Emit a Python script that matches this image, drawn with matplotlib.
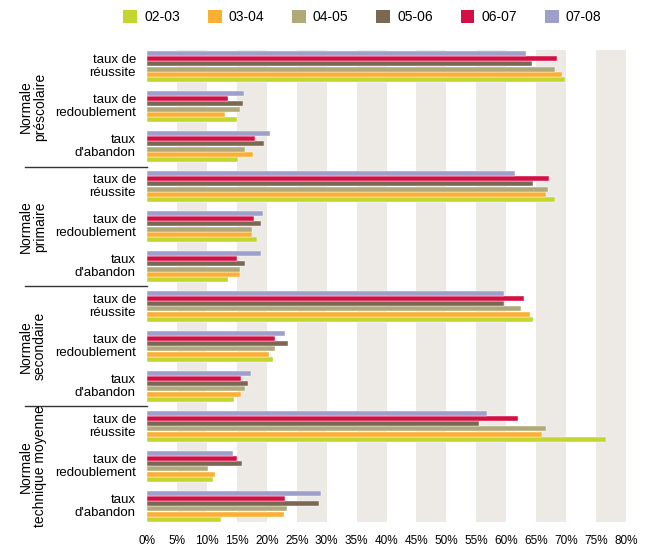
import matplotlib
matplotlib.use("Agg")
import matplotlib.pyplot as plt
import matplotlib.transforms as mtransforms
from matplotlib.patches import Patch

plt.rcParams['font.family'] = ['Liberation Sans', 'DejaVu Sans']

# data (percent), one list per school year, 12 rows top->bottom
years = ['02-03', '03-04', '04-05', '05-06', '06-07', '07-08']
colors = ['#C3D62E', '#FBB033', '#B0A97A', '#7A6852', '#D30F45', '#9E9FCB']

groups = ['Normale\npréscolaire', 'Normale\nprimaire', 'Normale\nsecondaire',
          'Normale\ntechnique moyenne']
rates = ['taux de\nréussite', 'taux de\nredoublement', 'taux\nd\'abandon']

v_0203 = [69.8, 15.0, 15.2, 68.2, 18.4, 13.5, 64.4, 21.0, 14.5, 76.7, 11.1, 12.4]
v_0304 = [69.3, 13.0, 17.7, 66.7, 17.5, 15.5, 64.0, 20.3, 15.7, 65.9, 11.4, 22.8]
v_0405 = [68.2, 15.5, 16.3, 66.9, 17.5, 15.5, 62.4, 21.3, 16.3, 66.6, 10.2, 23.3]
v_0506 = [64.3, 16.1, 19.5, 64.4, 19.0, 16.4, 59.6, 23.5, 16.8, 55.5, 15.8, 28.7]
v_0607 = [68.5, 13.6, 18.0, 67.1, 17.8, 15.0, 62.9, 21.4, 15.7, 61.9, 15.0, 23.0]
v_0708 = [63.3, 16.2, 20.5, 61.5, 19.3, 19.1, 59.6, 23.0, 17.4, 56.8, 14.4, 29.0]
series = [v_0203, v_0304, v_0405, v_0506, v_0607, v_0708]

fig = plt.figure(figsize=(6.47, 5.51), dpi=100)
ax = fig.add_axes([147 / 647, 1 - 522 / 551, 479 / 647, 472 / 551])

# background bands every other 5%
for start in range(5, 80, 10):
    ax.axvspan(start, start + 5, color='#EDEAE5', zorder=0, lw=0)

pitch = 0.13
n = len(series)
for j, (vals, col) in enumerate(zip(series, colors)):
    ys = [c + (n - 1 - j) * pitch for c in range(len(vals))]
    ax.barh(ys, vals, height=0.125, color=col, zorder=2,
            edgecolor='white', linewidth=0.3)

ax.set_xlim(0, 80)
ax.set_ylim(11.72, -0.09)
ax.set_xticks(range(0, 81, 5))
ax.set_xticklabels(['%d%%' % t for t in range(0, 81, 5)], fontsize=8.5)
ax.tick_params(axis='x', length=0, pad=9)
ax.set_yticks([])
for s in ax.spines.values():
    s.set_visible(False)

trans = mtransforms.blended_transform_factory(ax.transAxes, ax.transData)
n_rates = len(rates)
for c in range(len(groups) * n_rates):
    ax.text(-0.023, c + (n - 1) * pitch / 2, rates[c % n_rates], transform=trans,
            ha='right', va='center', fontsize=9.5, linespacing=1.15)

for g, name in enumerate(groups):
    mid = g * n_rates + (n_rates - 1) / 2 + (n - 1) * pitch / 2
    ax.text(-0.238, mid, name, transform=trans, rotation=90, ha='center',
            va='center', fontsize=10, linespacing=1.0, multialignment='center')
    if g > 0:
        yb = g * n_rates - 0.175
        ax.plot([-0.255, 0], [yb, yb], transform=trans, color='#333333',
                lw=1, clip_on=False)

handles = [Patch(facecolor=c, edgecolor='none') for c in colors]
fig.legend(handles, years, loc='center', bbox_to_anchor=(0.56, 0.969), ncol=6,
           frameon=False, fontsize=10, handlelength=1.0, handleheight=1.0,
           columnspacing=2.0, handletextpad=0.5)

fig.savefig('out.png', dpi=100)
